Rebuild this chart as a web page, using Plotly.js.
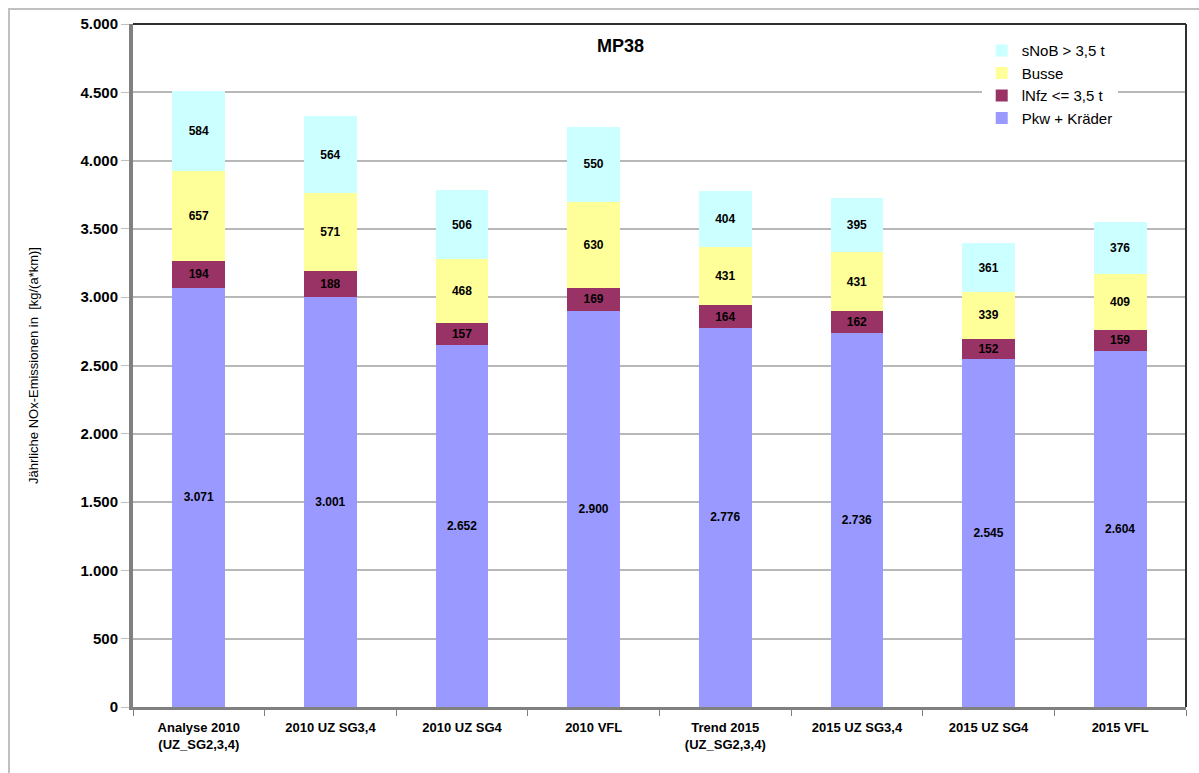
<!DOCTYPE html>
<html><head><meta charset="utf-8">
<script src="https://cdn.plot.ly/plotly-3.0.1.min.js"></script>
<style>body{margin:0;background:#fff;overflow:hidden}#frame{position:absolute;left:8px;top:8px;width:1300px;height:900px;border-left:2px solid #c0c0c0;border-top:2px solid #c0c0c0;pointer-events:none}#chart{width:1199px;height:773px}</style>
</head><body>
<div id="chart"></div><div id="frame"></div>
<script>
const categories = ["Analyse 2010<br>(UZ_SG2,3,4)", "2010 UZ SG3,4", "2010 UZ SG4", "2010 VFL", "Trend 2015<br>(UZ_SG2,3,4)", "2015 UZ SG3,4", "2015 UZ SG4", "2015 VFL"];
const pkw   = [3071, 3001, 2652, 2900, 2776, 2736, 2545, 2604];
const lnfz  = [194, 188, 157, 169, 164, 162, 152, 159];
const busse = [657, 571, 468, 630, 431, 431, 339, 409];
const snob  = [584, 564, 506, 550, 404, 395, 361, 376];
const names = ["Pkw + Kräder", "lNfz <= 3,5 t", "Busse", "sNoB > 3,5 t"];
const colors = ["#9999ff", "#993366", "#ffff99", "#ccffff"];
const series = [pkw, lnfz, busse, snob];
const font = "Liberation Sans, Arial, sans-serif";
const traces = series.map((s, i) => ({
  type: "bar", x: categories, y: s, name: names[i],
  marker: {color: colors[i], line: {width: 0}},
  width: 0.4,
  text: s, texttemplate: "%{y:,}", textposition: "inside", insidetextanchor: "middle",
  textangle: 0, constraintext: "none",
  textfont: {family: font, size: 12, color: "#000", weight: "bold"},
  hoverinfo: "y+name"
}));
const layout = {
  width: 1199, height: 773,
  margin: {l: 133, r: 13, t: 24, b: 66},
  barmode: "stack", separators: ",.",
  paper_bgcolor: "#fff", plot_bgcolor: "#fff",
  font: {family: font, color: "#000"},
  showlegend: true,
  legend: {x: 0.806, y: 0.985, xanchor: "left", yanchor: "top", traceorder: "reversed",
    bgcolor: "#fff", font: {family: font, size: 15, color: "#000"}, itemwidth: 30, tracegroupgap: 0},
  xaxis: {type: "category", showline: true, linecolor: "#808080", linewidth: 3,
    ticks: "outside", tickson: "boundaries", ticklen: 6, tickcolor: "#808080",
    ticklabelstandoff: 6,
    tickfont: {family: font, size: 13, color: "#000", weight: "bold"}, showgrid: false},
  yaxis: {range: [0, 5000], tickvals: [0,500,1000,1500,2000,2500,3000,3500,4000,4500,5000],
    tickformat: ",d", showline: true, linecolor: "#808080", linewidth: 4,
    ticks: "outside", ticklen: 8, tickcolor: "#c0c0c0",
    gridcolor: "#b8b8b8", gridwidth: 2, zeroline: false,
    tickfont: {family: font, size: 15, color: "#000", weight: "bold"},
    title: {text: "Jährliche NOx-Emissionen in  [kg/(a*km)]", font: {family: font, size: 13, color: "#000"}, standoff: 40}},
  annotations: [{text: "<b>MP38</b>", xref: "paper", yref: "paper", x: 0.4625, y: 0.985,
    showarrow: false, font: {family: font, size: 18, color: "#000"}}],
  shapes: [
    {type: "line", xref: "paper", yref: "paper", x0: 0, x1: 1, y0: 1, y1: 1, line: {color: "#303030", width: 2}},
    {type: "line", xref: "paper", yref: "paper", x0: 1, x1: 1, y0: 0, y1: 1, line: {color: "#303030", width: 2}}
  ]
};
Plotly.newPlot("chart", traces, layout, {displayModeBar: false});
</script>
</body></html>
